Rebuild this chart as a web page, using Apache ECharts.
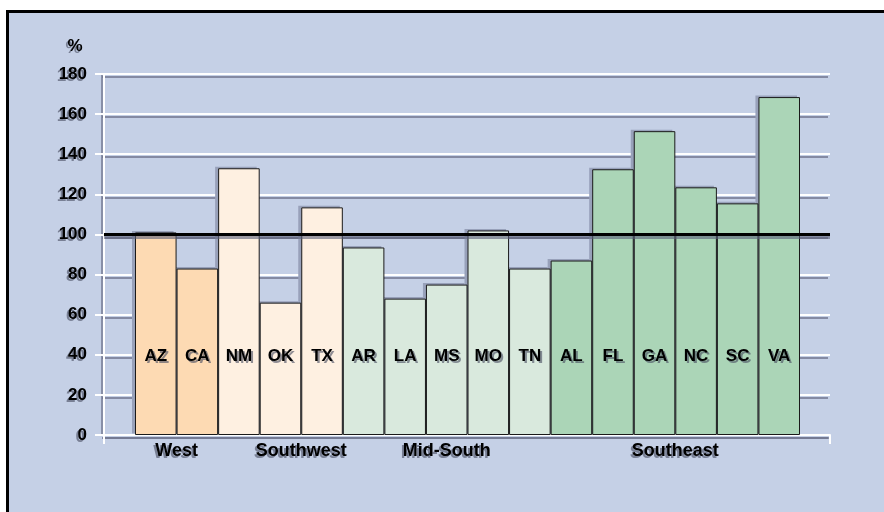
<!DOCTYPE html>
<html>
<head>
<meta charset="utf-8">
<script src="https://cdn.jsdelivr.net/npm/echarts@6/dist/echarts.min.js"></script>
<style>html,body{margin:0;padding:0;background:#fff;}#c{width:884px;height:512px;}</style>
</head>
<body>
<div id="c"></div>
<script>
const states = ['AZ','CA','NM','OK','TX','AR','LA','MS','MO','TN','AL','FL','GA','NC','SC','VA'];
const values = [101, 83, 133, 66, 113.5, 93.5, 68, 75, 102, 83, 87, 132.5, 151.5, 123.5, 115.5, 168.5];
const regionOf = ['West','West','Southwest','Southwest','Southwest','Mid-South','Mid-South','Mid-South','Mid-South','Mid-South','Southeast','Southeast','Southeast','Southeast','Southeast','Southeast'];
const groupNames = ['West','Southwest','Mid-South','Southeast'];
const groupLabelAt = [0.5, 3.5, 7, 12.5];
const yTicks = [0,20,40,60,80,100,120,140,160,180];
const referenceValue = 100;

const colors = {'West':'#FDDAB3','Southwest':'#FEF0E1','Mid-South':'#D9E9DD','Southeast':'#ABD5B7'};
const FONT = '"Liberation Sans", Arial, sans-serif';
const SH = 'rgba(70,75,95,0.6)';
const shadowTxt = {textShadowColor:SH, textShadowOffsetX:-2, textShadowOffsetY:2, textShadowBlur:0.5};
const gShadow = {shadowColor:SH, shadowOffsetX:-2, shadowOffsetY:2, shadowBlur:0.5,
                 textShadowColor:SH, textShadowOffsetX:-2, textShadowOffsetY:2, textShadowBlur:0.5};

const chart = echarts.init(document.getElementById('c'));
const yMin = yTicks[0], yMax = yTicks[yTicks.length-1], yInt = yTicks[1]-yTicks[0];

chart.setOption({
  backgroundColor:'#fff',
  animation:false,
  grid:[
    {left:104, right:54, top:74, bottom:77},
    {left:135, right:84, top:74, bottom:77},
    {left:132, right:87, top:72.5, bottom:78.5}
  ],
  xAxis:[
    {gridIndex:0, type:'category', data:[''], boundaryGap:true,
     axisLine:{lineStyle:{color:'#fff', width:2, shadowColor:'rgba(110,115,140,0.7)', shadowOffsetY:3}},
     axisTick:{show:true, length:9, lineStyle:{color:'#fff', width:2}},
     axisLabel:{show:false}},
    {gridIndex:1, type:'category', data:states, show:false},
    {gridIndex:2, type:'category', data:states, show:false}
  ],
  yAxis:[
    {gridIndex:0, type:'value', min:yMin, max:yMax, interval:yInt,
     axisLine:{show:true, lineStyle:{color:'#fff', width:2, shadowColor:'rgba(110,115,140,0.7)', shadowOffsetX:-2}},
     axisTick:{show:true, length:9, lineStyle:{color:'#fff', width:2}},
     axisLabel:Object.assign({color:'#000', fontWeight:'bold', fontSize:17, fontFamily:FONT, margin:17}, shadowTxt),
     splitLine:{show:true, lineStyle:{color:'#fff', width:2, shadowColor:'rgba(110,115,140,0.75)', shadowOffsetY:3, shadowOffsetX:-2}}},
    {gridIndex:1, type:'value', min:yMin, max:yMax, show:false, splitLine:{show:false}},
    {gridIndex:2, type:'value', min:yMin, max:yMax, show:false, splitLine:{show:false}}
  ],
  series:[
    {type:'bar', xAxisIndex:2, yAxisIndex:2, barCategoryGap:'0%', z:1, silent:true,
     itemStyle:{color:'#98A1BA'}, data:values},
    {type:'bar', xAxisIndex:1, yAxisIndex:1, barCategoryGap:'0%', z:3,
     itemStyle:{borderColor:'#1a1a1a', borderWidth:1},
     label:{show:true, position:'insideBottom', distance:70, formatter:p=>states[p.dataIndex],
       color:'#000', fontWeight:'bold', fontSize:17, fontFamily:FONT,
       textShadowColor:SH, textShadowOffsetX:2, textShadowOffsetY:2, textShadowBlur:0.5},
     data:values.map((v,i)=>({value:v, itemStyle:{color:colors[regionOf[i]]}}))},
    {type:'line', xAxisIndex:0, yAxisIndex:0, data:[], z:5,
     markLine:{silent:true, symbol:['none','none'], label:{show:false},
       lineStyle:{color:'#000', width:3, type:'solid', shadowColor:'rgba(90,95,120,0.6)', shadowOffsetY:3},
       data:[{yAxis:referenceValue}]}}
  ]
});

const g = [{type:'rect', z:-10, silent:true, shape:{x:7.5,y:11.5,width:900,height:600},
    style:{fill:'#C5D0E6', stroke:'#000', lineWidth:3}},
  {type:'text', z:10, x:75, y:46, style:Object.assign({text:'%', font:'bold 17px '+FONT, fill:'#000', align:'center', verticalAlign:'middle'}, gShadow)}];
groupNames.forEach((name,k)=>{
  const f = groupLabelAt[k], i0 = Math.floor(f), frac = f - i0;
  const p0 = chart.convertToPixel({xAxisIndex:1}, i0);
  const p1 = chart.convertToPixel({xAxisIndex:1}, Math.min(i0+1, states.length-1));
  const px = p0 + (p1-p0)*frac;
  const py = chart.convertToPixel({yAxisIndex:0}, 0) + 16;
  g.push({type:'text', z:10, x:px, y:py, style:Object.assign({text:name, font:'bold 18px '+FONT, fill:'#000', align:'center', verticalAlign:'middle'}, gShadow)});
});
chart.setOption({graphic:g});
</script>
</body>
</html>
